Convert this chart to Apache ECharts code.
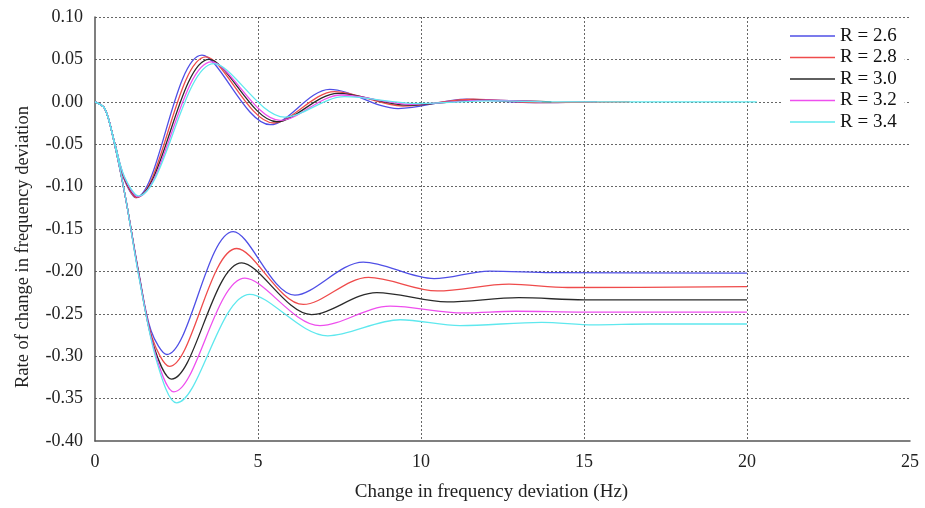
<!DOCTYPE html>
<html>
<head>
<meta charset="utf-8">
<script src="https://cdn.jsdelivr.net/npm/echarts@6/dist/echarts.min.js"></script>
<style>
  html, body { margin: 0; padding: 0; background: #fff; }
  #chart_con { width: 925px; height: 508px; }
</style>
</head>
<body>
<div id="chart_con"></div>
<script>
// legend names, one per droop value R
let rNames = ['R = 2.6', 'R = 2.8', 'R = 3.0', 'R = 3.2', 'R = 3.4'];

// upper family (settles back to 0), [x, y]
let upper26 = [[0, 0], [0.3, -0.008], [0.6, -0.048], [0.9, -0.092], [1.25, -0.113], [3.28, 0.055], [5.38, -0.027], [7.2, 0.0147], [9.3, -0.008], [11.4, 0.003], [13.3, -0.001], [15.4, 0]];
let upper28 = [[0, 0], [0.3, -0.008], [0.6, -0.048], [0.9, -0.091], [1.27, -0.113], [3.4, 0.053], [5.48, -0.025], [7.35, 0.012], [9.45, -0.005], [11.6, 0.003], [13.5, -0.001], [16.4, 0]];
let upper30 = [[0, 0], [0.3, -0.008], [0.6, -0.048], [0.9, -0.090], [1.29, -0.112], [3.5, 0.050], [5.58, -0.0235], [7.45, 0.010], [9.6, -0.004], [11.8, 0.002], [14.0, 0]];
let upper32 = [[0, 0], [0.3, -0.008], [0.6, -0.048], [0.9, -0.089], [1.31, -0.112], [3.57, 0.047], [5.68, -0.022], [7.55, 0.008], [9.7, -0.003], [12.0, 0.002], [13.7, 0]];
let upper34 = [[0, 0], [0.3, -0.008], [0.6, -0.048], [0.9, -0.088], [1.33, -0.111], [3.65, 0.045], [5.82, -0.018], [7.65, 0.006], [9.9, -0.002], [12.2, 0.001], [14.0, 0], [20.3, 0]];

// lower family (settles at a negative offset)
let lower26 = [[0, 0], [0.3, -0.008], [0.6, -0.05], [0.95, -0.116], [1.35, -0.203], [1.72, -0.27], [2.2, -0.298], [4.24, -0.153], [6.13, -0.228], [8.23, -0.189], [10.4, -0.2085], [12.1, -0.1996], [14.0, -0.2015], [20, -0.202]];
let lower28 = [[0, 0], [0.3, -0.008], [0.6, -0.05], [0.95, -0.116], [1.35, -0.204], [1.76, -0.279], [2.28, -0.312], [4.35, -0.173], [6.39, -0.239], [8.39, -0.207], [10.5, -0.223], [12.7, -0.215], [14.5, -0.219], [20, -0.218]];
let lower30 = [[0, 0], [0.3, -0.008], [0.6, -0.05], [0.95, -0.116], [1.35, -0.205], [1.8, -0.288], [2.35, -0.327], [4.5, -0.190], [6.64, -0.251], [8.64, -0.225], [10.8, -0.236], [13.0, -0.231], [15.0, -0.2335], [20, -0.2335]];
let lower32 = [[0, 0], [0.3, -0.008], [0.6, -0.05], [0.95, -0.116], [1.35, -0.206], [1.85, -0.297], [2.42, -0.342], [4.6, -0.208], [6.9, -0.264], [9.05, -0.241], [11.3, -0.249], [12.9, -0.247], [15.0, -0.248], [20, -0.248]];
let lower34 = [[0, 0], [0.3, -0.008], [0.6, -0.05], [0.95, -0.116], [1.35, -0.207], [1.9, -0.307], [2.5, -0.355], [4.75, -0.227], [7.14, -0.276], [9.36, -0.257], [11.2, -0.264], [13.7, -0.260], [15.3, -0.263], [17.0, -0.262], [20, -0.262]];

let upperSets = [upper26, upper28, upper30, upper32, upper34];
let lowerSets = [lower26, lower28, lower30, lower32, lower34];

let colors = ['#4f4fe6', '#ef4b4b', '#2a2a2a', '#ee4fee', '#5fe8ee'];
let fontName = '"Liberation Serif", "Times New Roman", serif';

let seriesList = [];
for (let i = 0; i < rNames.length; i++) {
    [lowerSets[i], upperSets[i]].forEach(function (pts) {
        seriesList.push({
            name: rNames[i],
            type: 'line',
            data: pts,
            smooth: 0.33,
            showSymbol: false,
            lineStyle: { color: colors[i], width: 1.3 },
            itemStyle: { color: colors[i] }
        });
    });
}

let chart = echarts.init(document.getElementById('chart_con'));
const option = {
    animation: false,
    backgroundColor: '#fff',
    grid: { left: 95, right: 15, top: 17, bottom: 67, containLabel: false },
    legend: {
        data: rNames,
        orient: 'vertical',
        left: 782,
        top: 20,
        padding: [6, 8, 6, 8],
        backgroundColor: '#fff',
        icon: 'rect',
        itemWidth: 45,
        itemHeight: 1.5,
        itemGap: 1.5,
        textStyle: { fontFamily: fontName, fontSize: 19, color: '#111', lineHeight: 20 }
    },
    xAxis: {
        type: 'value',
        min: 0,
        max: 25,
        interval: 5,
        name: 'Change in frequency deviation (Hz)',
        nameLocation: 'middle',
        nameGap: 42,
        nameTextStyle: { fontFamily: fontName, fontSize: 19, color: '#222', padding: [0, 22, 0, 0] },
        axisLine: { show: true, onZero: false, lineStyle: { color: '#555', width: 1.5 } },
        axisTick: { show: false },
        axisLabel: { fontFamily: fontName, fontSize: 18, color: '#222', margin: 12 },
        splitLine: { show: true, showMinLine: false, showMaxLine: false, lineStyle: { color: '#666', type: [2, 2], width: 1 } }
    },
    yAxis: {
        type: 'value',
        min: -0.4,
        max: 0.1,
        interval: 0.05,
        name: 'Rate of change in frequency deviation',
        nameLocation: 'middle',
        nameGap: 62,
        nameTextStyle: { fontFamily: fontName, fontSize: 18.5, color: '#222', padding: [0, 36, 0, 0] },
        axisLine: { show: true, onZero: false, lineStyle: { color: '#555', width: 1.5 } },
        axisTick: { show: false },
        axisLabel: {
            fontFamily: fontName, fontSize: 18, color: '#222', margin: 12,
            formatter: function (v) { return Math.abs(v) < 1e-9 ? '0.00' : v.toFixed(2); }
        },
        splitLine: { show: true, showMinLine: false, lineStyle: { color: '#666', type: [2, 2], width: 1 } }
    },
    series: seriesList
};
chart.setOption(option);
window.addEventListener('resize', function () {
    chart.resize();
});
</script>
</body>
</html>
